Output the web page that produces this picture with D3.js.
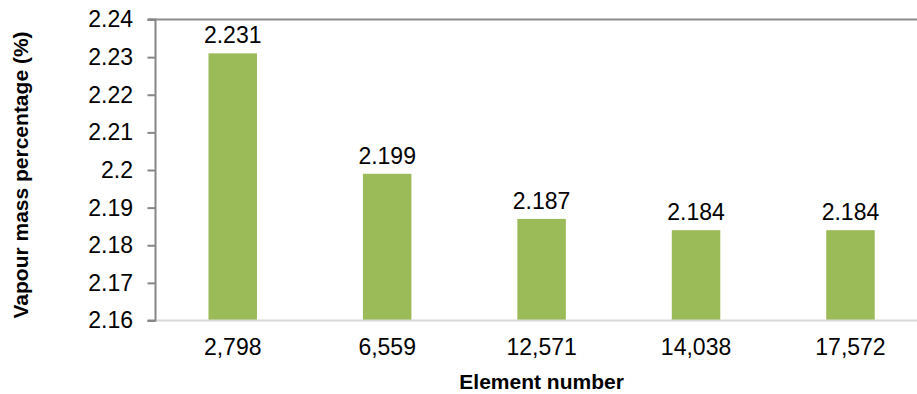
<!DOCTYPE html>
<html><head><meta charset="utf-8">
<script src="https://cdn.jsdelivr.net/npm/d3@7"></script>
<style>body{margin:0;background:#fff}svg{display:block}text{font-family:"Liberation Sans",Arial,sans-serif}</style>
</head><body>
<svg id="c" width="917" height="394"></svg>
<script>
const categories = ["2,798","6,559","12,571","14,038","17,572"];
const values = [2.231, 2.199, 2.187, 2.184, 2.184];
const labels = ["2.231","2.199","2.187","2.184","2.184"];
const yTicks = [2.16,2.17,2.18,2.19,2.2,2.21,2.22,2.23,2.24];

const svg = d3.select("#c");
const L = 155.5, R = 927.7, T = 19.5, B = 320.5;
const x = d3.scaleBand().domain(categories).range([L, R]).paddingInner(0.686).paddingOuter(0.343);
const y = d3.scaleLinear().domain([2.16, 2.24]).range([B, T]);
const FS = 23;

// top line
svg.append("line").attr("x1",148).attr("x2",917).attr("y1",y(2.24)).attr("y2",y(2.24)).attr("stroke","#8c8c8c").attr("stroke-width",2);

// bars
svg.selectAll("rect.bar").data(values).enter().append("rect")
  .attr("x",(d,i)=>x(categories[i])).attr("width",x.bandwidth())
  .attr("y",d=>y(d)).attr("height",d=>y(2.16)-y(d)).attr("fill","#9bbb59");

// data labels
svg.selectAll("text.dl").data(values).enter().append("text")
  .attr("x",(d,i)=>x(categories[i])+x.bandwidth()/2).attr("y",d=>y(d)-10)
  .attr("text-anchor","middle").attr("font-size",FS).attr("fill","#000").text((d,i)=>labels[i]);

// bottom axis
svg.append("line").attr("x1",L).attr("x2",917).attr("y1",B).attr("y2",B).attr("stroke","#d9d9d9").attr("stroke-width",2);

// left axis
const ya = svg.append("g").attr("transform",`translate(${L},0)`)
  .call(d3.axisLeft(y).tickValues(yTicks).tickSize(8).tickPadding(14.5).tickFormat(d=>d3.format("")(+d.toFixed(2))));
ya.select(".domain").attr("stroke","#868686").attr("stroke-width",2).attr("d",`M-8,${T}H0V${B}H-8`);
ya.selectAll(".tick line").attr("stroke","#868686").attr("stroke-width",2);
ya.selectAll(".tick text").attr("font-size",FS).attr("fill","#000").attr("font-family","Liberation Sans, Arial, sans-serif");

// x labels
const xa = svg.append("g").attr("transform",`translate(0,${B})`)
  .call(d3.axisBottom(x).tickSize(0).tickPadding(18));
xa.select(".domain").remove();
xa.selectAll(".tick text").attr("font-size",FS).attr("fill","#000").attr("font-family","Liberation Sans, Arial, sans-serif");

// titles
svg.append("text").attr("x",(L+R)/2).attr("y",389).attr("text-anchor","middle")
  .attr("font-size",21).attr("font-weight","bold").text("Element number");
svg.append("text").attr("transform","translate(28,175) rotate(-90)").attr("text-anchor","middle")
  .attr("font-size",21).attr("font-weight","bold").text("Vapour mass percentage (%)");
</script>
</body></html>
